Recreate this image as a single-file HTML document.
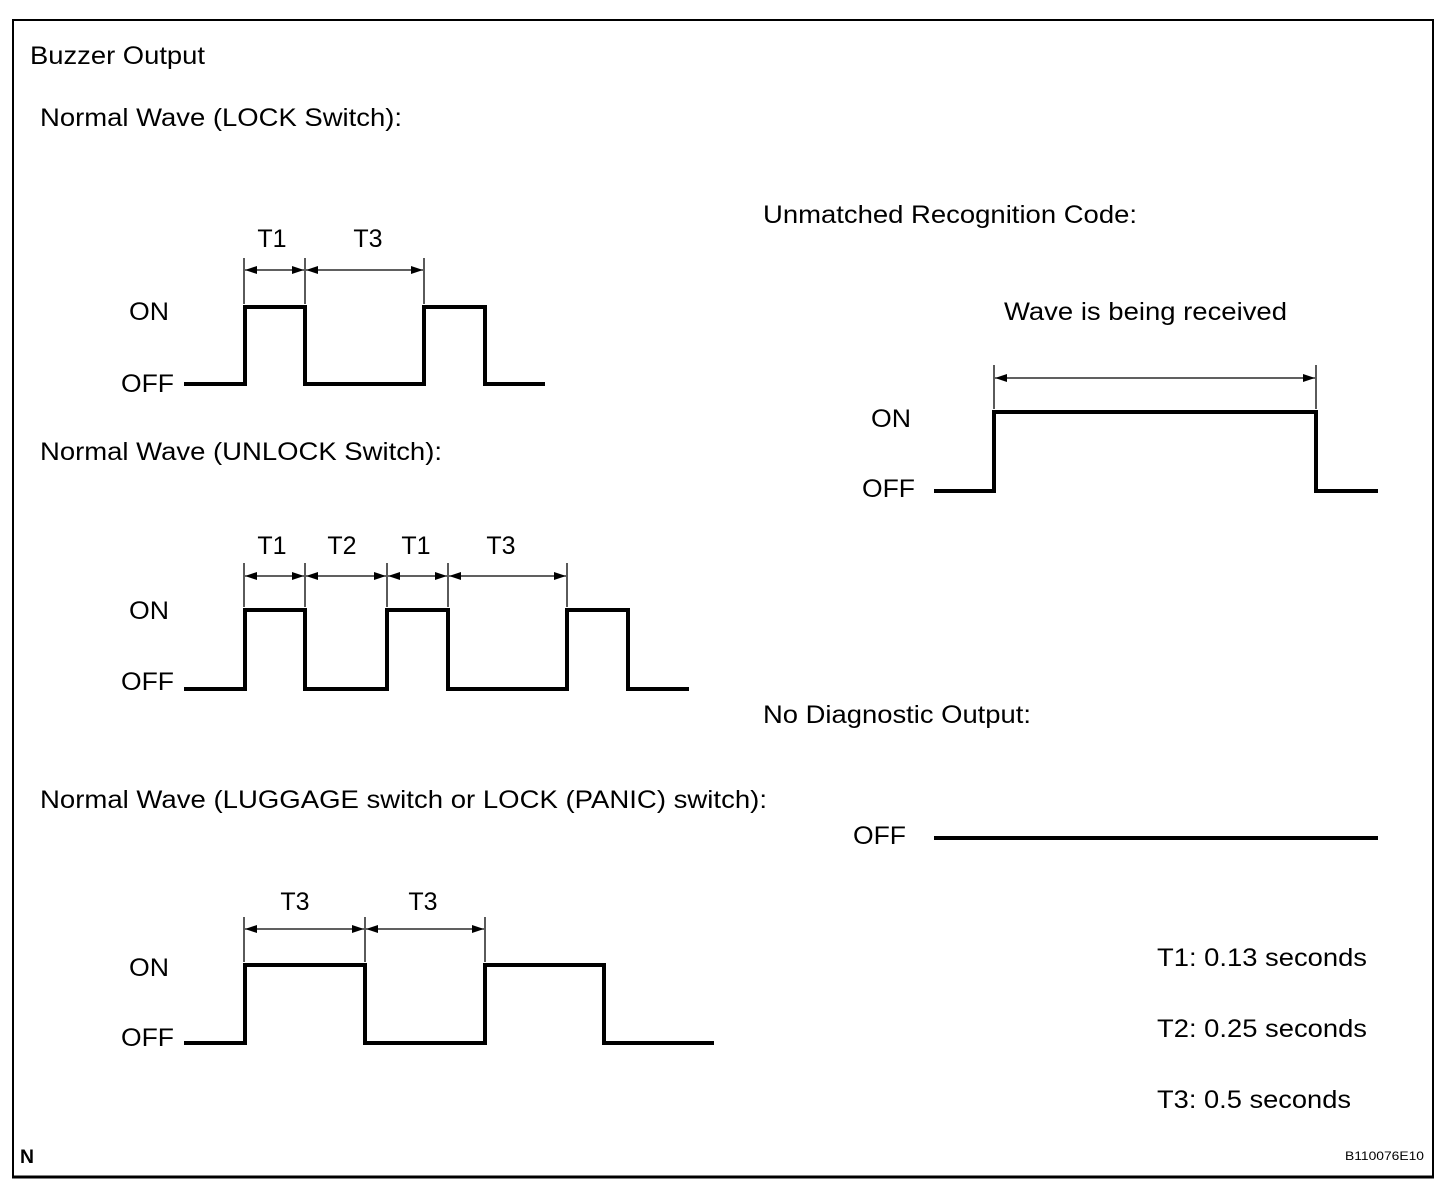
<!DOCTYPE html>
<html><head><meta charset="utf-8"><style>
html,body{margin:0;padding:0;background:#fff;}
svg{display:block;}
text{font-family:"Liberation Sans",Arial,sans-serif;font-size:25px;fill:#000;}
</style></head><body>
<svg width="1456" height="1188" viewBox="0 0 1456 1188" xmlns="http://www.w3.org/2000/svg">
<defs>
<marker id="a" viewBox="0 0 12 8" refX="12" refY="4" markerWidth="12" markerHeight="8" markerUnits="userSpaceOnUse" orient="auto-start-reverse"><path d="M0,0 L12,4 L0,8 z" fill="#000"/></marker>
</defs>
<rect x="13" y="20" width="1420" height="1157" fill="none" stroke="#000" stroke-width="2"/>
<line x1="12" y1="1177" x2="1434" y2="1177" stroke="#000" stroke-width="3"/>
<text x="30" y="64" textLength="175" lengthAdjust="spacingAndGlyphs">Buzzer Output</text>
<text x="40" y="126" textLength="362" lengthAdjust="spacingAndGlyphs">Normal Wave (LOCK Switch):</text>
<text x="40" y="460" textLength="402" lengthAdjust="spacingAndGlyphs">Normal Wave (UNLOCK Switch):</text>
<text x="40" y="808" textLength="727" lengthAdjust="spacingAndGlyphs">Normal Wave (LUGGAGE switch or LOCK (PANIC) switch):</text>
<text x="763" y="223" textLength="374" lengthAdjust="spacingAndGlyphs">Unmatched Recognition Code:</text>
<text x="1004" y="320" textLength="283" lengthAdjust="spacingAndGlyphs">Wave is being received</text>
<text x="763" y="723" textLength="268" lengthAdjust="spacingAndGlyphs">No Diagnostic Output:</text>
<text x="1157" y="966" textLength="210" lengthAdjust="spacingAndGlyphs">T1: 0.13 seconds</text>
<text x="1157" y="1037" textLength="210" lengthAdjust="spacingAndGlyphs">T2: 0.25 seconds</text>
<text x="1157" y="1108" textLength="194" lengthAdjust="spacingAndGlyphs">T3: 0.5 seconds</text>
<text x="20" y="1163" style="font-size:19px;font-weight:bold" textLength="14" lengthAdjust="spacingAndGlyphs">N</text>
<text x="1345" y="1160" style="font-size:12px" textLength="79" lengthAdjust="spacingAndGlyphs">B110076E10</text>

<g fill="none" stroke="#000" stroke-width="4" stroke-linejoin="miter">
<polyline points="184,384 245,384 245,307 305,307 305,384 424,384 424,307 485,307 485,384 545,384"/>
<polyline points="184,689 245,689 245,610 305,610 305,689 387,689 387,610 448,610 448,689 567,689 567,610 628,610 628,689 689,689"/>
<polyline points="184,1043 245,1043 245,965 365,965 365,1043 485,1043 485,965 604,965 604,1043 714,1043"/>
<polyline points="934,491 994,491 994,412 1316,412 1316,491 1378,491"/>
<line x1="934" y1="838" x2="1378" y2="838"/>
</g>

<g stroke="#000" stroke-width="1.3">
<line x1="244" y1="258" x2="244" y2="304"/><line x1="305" y1="258" x2="305" y2="304"/><line x1="424" y1="258" x2="424" y2="304"/>
<line x1="245" y1="270" x2="304" y2="270" marker-start="url(#a)" marker-end="url(#a)"/>
<line x1="306" y1="270" x2="423" y2="270" marker-start="url(#a)" marker-end="url(#a)"/>
<line x1="244" y1="563" x2="244" y2="607"/><line x1="305" y1="563" x2="305" y2="607"/><line x1="387" y1="563" x2="387" y2="607"/><line x1="448" y1="563" x2="448" y2="607"/><line x1="567" y1="563" x2="567" y2="607"/>
<line x1="245" y1="576" x2="304" y2="576" marker-start="url(#a)" marker-end="url(#a)"/>
<line x1="306" y1="576" x2="386" y2="576" marker-start="url(#a)" marker-end="url(#a)"/>
<line x1="388" y1="576" x2="447" y2="576" marker-start="url(#a)" marker-end="url(#a)"/>
<line x1="449" y1="576" x2="566" y2="576" marker-start="url(#a)" marker-end="url(#a)"/>
<line x1="244" y1="917" x2="244" y2="962"/><line x1="365" y1="917" x2="365" y2="962"/><line x1="485" y1="917" x2="485" y2="962"/>
<line x1="245" y1="929" x2="364" y2="929" marker-start="url(#a)" marker-end="url(#a)"/>
<line x1="366" y1="929" x2="484" y2="929" marker-start="url(#a)" marker-end="url(#a)"/>
<line x1="994" y1="365" x2="994" y2="409"/><line x1="1316" y1="365" x2="1316" y2="409"/>
<line x1="995" y1="378" x2="1315" y2="378" marker-start="url(#a)" marker-end="url(#a)"/>
</g>

<text x="272" y="247" text-anchor="middle">T1</text>
<text x="368" y="247" text-anchor="middle">T3</text>
<text x="129" y="320" textLength="40" lengthAdjust="spacingAndGlyphs">ON</text><text x="121" y="392" textLength="53" lengthAdjust="spacingAndGlyphs">OFF</text>

<text x="272" y="554" text-anchor="middle">T1</text>
<text x="342" y="554" text-anchor="middle">T2</text>
<text x="416" y="554" text-anchor="middle">T1</text>
<text x="501" y="554" text-anchor="middle">T3</text>
<text x="129" y="619" textLength="40" lengthAdjust="spacingAndGlyphs">ON</text><text x="121" y="690" textLength="53" lengthAdjust="spacingAndGlyphs">OFF</text>

<text x="295" y="910" text-anchor="middle">T3</text>
<text x="423" y="910" text-anchor="middle">T3</text>
<text x="129" y="976" textLength="40" lengthAdjust="spacingAndGlyphs">ON</text><text x="121" y="1046" textLength="53" lengthAdjust="spacingAndGlyphs">OFF</text>

<text x="871" y="427" textLength="40" lengthAdjust="spacingAndGlyphs">ON</text><text x="862" y="497" textLength="53" lengthAdjust="spacingAndGlyphs">OFF</text>
<text x="853" y="844" textLength="53" lengthAdjust="spacingAndGlyphs">OFF</text>
</svg>
</body></html>
